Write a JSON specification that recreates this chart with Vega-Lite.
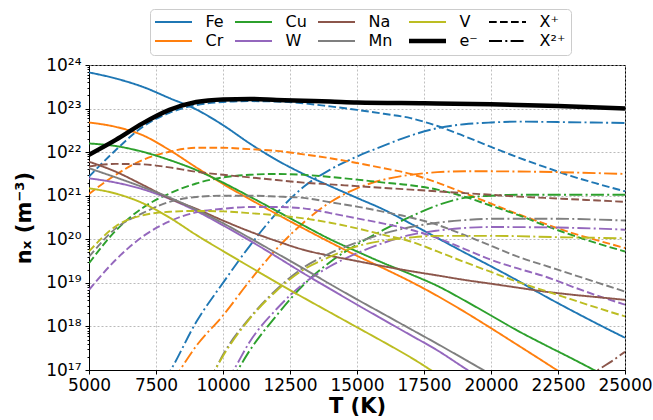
{
  "$schema": "https://vega.github.io/schema/vega-lite/v6.json",
  "width": 536,
  "height": 305,
  "autosize": "none",
  "padding": {"left": 89, "top": 65, "right": 28, "bottom": 50},
  "config": {
    "font": "DejaVu Sans",
    "view": {"stroke": "#000", "strokeWidth": 1},
    "axis": {
      "labelFont": "DejaVu Sans", "labelFontSize": 17, "labelColor": "#000",
      "tickColor": "#000", "domainColor": "#000", "titleFont": "DejaVu Sans", "titleColor": "#000",
      "gridColor": "#b0b0b0", "gridDash": [2, 2], "gridWidth": 0.8
    }
  },
  "data": {"values": [
    {"T": 5000, "n": 6.76e23, "s": "Fe", "q": "0"},
    {"T": 6000, "n": 4.90e23, "s": "Fe", "q": "0"},
    {"T": 7000, "n": 3.16e23, "s": "Fe", "q": "0"},
    {"T": 8000, "n": 1.74e23, "s": "Fe", "q": "0"},
    {"T": 9000, "n": 9.55e22, "s": "Fe", "q": "0"},
    {"T": 10000, "n": 4.17e22, "s": "Fe", "q": "0"},
    {"T": 11000, "n": 1.58e22, "s": "Fe", "q": "0"},
    {"T": 12000, "n": 6.61e21, "s": "Fe", "q": "0"},
    {"T": 13000, "n": 3.16e21, "s": "Fe", "q": "0"},
    {"T": 14000, "n": 1.66e21, "s": "Fe", "q": "0"},
    {"T": 15000, "n": 8.91e20, "s": "Fe", "q": "0"},
    {"T": 16000, "n": 4.79e20, "s": "Fe", "q": "0"},
    {"T": 17000, "n": 2.29e20, "s": "Fe", "q": "0"},
    {"T": 18000, "n": 1.07e20, "s": "Fe", "q": "0"},
    {"T": 19000, "n": 5.01e19, "s": "Fe", "q": "0"},
    {"T": 20000, "n": 2.40e19, "s": "Fe", "q": "0"},
    {"T": 21000, "n": 1.12e19, "s": "Fe", "q": "0"},
    {"T": 22000, "n": 5.01e18, "s": "Fe", "q": "0"},
    {"T": 23000, "n": 2.34e18, "s": "Fe", "q": "0"},
    {"T": 24000, "n": 1.12e18, "s": "Fe", "q": "0"},
    {"T": 25000, "n": 5.50e17, "s": "Fe", "q": "0"},

    {"T": 5000, "n": 2.75e21, "s": "Fe", "q": "+"},
    {"T": 6000, "n": 1.12e22, "s": "Fe", "q": "+"},
    {"T": 7000, "n": 3.80e22, "s": "Fe", "q": "+"},
    {"T": 8000, "n": 7.94e22, "s": "Fe", "q": "+"},
    {"T": 9000, "n": 1.20e23, "s": "Fe", "q": "+"},
    {"T": 10000, "n": 1.41e23, "s": "Fe", "q": "+"},
    {"T": 11000, "n": 1.48e23, "s": "Fe", "q": "+"},
    {"T": 12000, "n": 1.45e23, "s": "Fe", "q": "+"},
    {"T": 13000, "n": 1.32e23, "s": "Fe", "q": "+"},
    {"T": 14000, "n": 1.12e23, "s": "Fe", "q": "+"},
    {"T": 15000, "n": 9.33e22, "s": "Fe", "q": "+"},
    {"T": 16000, "n": 7.59e22, "s": "Fe", "q": "+"},
    {"T": 17000, "n": 6.03e22, "s": "Fe", "q": "+"},
    {"T": 18000, "n": 3.98e22, "s": "Fe", "q": "+"},
    {"T": 19000, "n": 2.34e22, "s": "Fe", "q": "+"},
    {"T": 20000, "n": 1.32e22, "s": "Fe", "q": "+"},
    {"T": 21000, "n": 7.59e21, "s": "Fe", "q": "+"},
    {"T": 22000, "n": 4.57e21, "s": "Fe", "q": "+"},
    {"T": 23000, "n": 2.82e21, "s": "Fe", "q": "+"},
    {"T": 24000, "n": 1.86e21, "s": "Fe", "q": "+"},
    {"T": 25000, "n": 1.26e21, "s": "Fe", "q": "+"},

    {"T": 7800, "n": 5.62e16, "s": "Fe", "q": "2+"},
    {"T": 8050, "n": 1.0e17, "s": "Fe", "q": "2+"},
    {"T": 9000, "n": 1.26e18, "s": "Fe", "q": "2+"},
    {"T": 10000, "n": 1.0e19, "s": "Fe", "q": "2+"},
    {"T": 11000, "n": 7.08e19, "s": "Fe", "q": "2+"},
    {"T": 12000, "n": 3.98e20, "s": "Fe", "q": "2+"},
    {"T": 13000, "n": 1.58e21, "s": "Fe", "q": "2+"},
    {"T": 14000, "n": 3.98e21, "s": "Fe", "q": "2+"},
    {"T": 15000, "n": 7.94e21, "s": "Fe", "q": "2+"},
    {"T": 16000, "n": 1.41e22, "s": "Fe", "q": "2+"},
    {"T": 17000, "n": 2.40e22, "s": "Fe", "q": "2+"},
    {"T": 18000, "n": 3.55e22, "s": "Fe", "q": "2+"},
    {"T": 19000, "n": 4.37e22, "s": "Fe", "q": "2+"},
    {"T": 20000, "n": 4.79e22, "s": "Fe", "q": "2+"},
    {"T": 21000, "n": 5.01e22, "s": "Fe", "q": "2+"},
    {"T": 22500, "n": 4.90e22, "s": "Fe", "q": "2+"},
    {"T": 25000, "n": 4.68e22, "s": "Fe", "q": "2+"},

    {"T": 5000, "n": 4.79e22, "s": "Cr", "q": "0"},
    {"T": 6000, "n": 3.80e22, "s": "Cr", "q": "0"},
    {"T": 7000, "n": 2.45e22, "s": "Cr", "q": "0"},
    {"T": 8000, "n": 1.12e22, "s": "Cr", "q": "0"},
    {"T": 9000, "n": 4.47e21, "s": "Cr", "q": "0"},
    {"T": 10000, "n": 1.86e21, "s": "Cr", "q": "0"},
    {"T": 11000, "n": 8.32e20, "s": "Cr", "q": "0"},
    {"T": 12000, "n": 3.80e20, "s": "Cr", "q": "0"},
    {"T": 13000, "n": 1.78e20, "s": "Cr", "q": "0"},
    {"T": 14000, "n": 8.51e19, "s": "Cr", "q": "0"},
    {"T": 15000, "n": 4.17e19, "s": "Cr", "q": "0"},
    {"T": 16000, "n": 2.14e19, "s": "Cr", "q": "0"},
    {"T": 17000, "n": 1.07e19, "s": "Cr", "q": "0"},
    {"T": 18000, "n": 5.01e18, "s": "Cr", "q": "0"},
    {"T": 19000, "n": 2.19e18, "s": "Cr", "q": "0"},
    {"T": 20000, "n": 9.12e17, "s": "Cr", "q": "0"},
    {"T": 21000, "n": 3.72e17, "s": "Cr", "q": "0"},
    {"T": 22000, "n": 1.51e17, "s": "Cr", "q": "0"},
    {"T": 23000, "n": 6.03e16, "s": "Cr", "q": "0"},

    {"T": 5000, "n": 1.10e21, "s": "Cr", "q": "+"},
    {"T": 6000, "n": 3.02e21, "s": "Cr", "q": "+"},
    {"T": 7000, "n": 6.61e21, "s": "Cr", "q": "+"},
    {"T": 8000, "n": 1.02e22, "s": "Cr", "q": "+"},
    {"T": 9000, "n": 1.26e22, "s": "Cr", "q": "+"},
    {"T": 10000, "n": 1.26e22, "s": "Cr", "q": "+"},
    {"T": 11000, "n": 1.17e22, "s": "Cr", "q": "+"},
    {"T": 12000, "n": 1.07e22, "s": "Cr", "q": "+"},
    {"T": 13000, "n": 8.91e21, "s": "Cr", "q": "+"},
    {"T": 14000, "n": 7.24e21, "s": "Cr", "q": "+"},
    {"T": 15000, "n": 5.62e21, "s": "Cr", "q": "+"},
    {"T": 16000, "n": 4.27e21, "s": "Cr", "q": "+"},
    {"T": 17000, "n": 3.16e21, "s": "Cr", "q": "+"},
    {"T": 18000, "n": 2.00e21, "s": "Cr", "q": "+"},
    {"T": 19000, "n": 1.15e21, "s": "Cr", "q": "+"},
    {"T": 20000, "n": 6.61e20, "s": "Cr", "q": "+"},
    {"T": 21000, "n": 3.80e20, "s": "Cr", "q": "+"},
    {"T": 22000, "n": 2.29e20, "s": "Cr", "q": "+"},
    {"T": 23000, "n": 1.41e20, "s": "Cr", "q": "+"},
    {"T": 24000, "n": 9.33e19, "s": "Cr", "q": "+"},
    {"T": 25000, "n": 6.31e19, "s": "Cr", "q": "+"},

    {"T": 8150, "n": 5.62e16, "s": "Cr", "q": "2+"},
    {"T": 8400, "n": 1.0e17, "s": "Cr", "q": "2+"},
    {"T": 9000, "n": 3.55e17, "s": "Cr", "q": "2+"},
    {"T": 10000, "n": 1.78e18, "s": "Cr", "q": "2+"},
    {"T": 11000, "n": 1.12e19, "s": "Cr", "q": "2+"},
    {"T": 12000, "n": 6.03e19, "s": "Cr", "q": "2+"},
    {"T": 13000, "n": 2.40e20, "s": "Cr", "q": "2+"},
    {"T": 14000, "n": 7.08e20, "s": "Cr", "q": "2+"},
    {"T": 15000, "n": 1.48e21, "s": "Cr", "q": "2+"},
    {"T": 16000, "n": 2.34e21, "s": "Cr", "q": "2+"},
    {"T": 17000, "n": 3.02e21, "s": "Cr", "q": "2+"},
    {"T": 18000, "n": 3.47e21, "s": "Cr", "q": "2+"},
    {"T": 19000, "n": 3.63e21, "s": "Cr", "q": "2+"},
    {"T": 20000, "n": 3.63e21, "s": "Cr", "q": "2+"},
    {"T": 22500, "n": 3.47e21, "s": "Cr", "q": "2+"},
    {"T": 25000, "n": 3.16e21, "s": "Cr", "q": "2+"},

    {"T": 5000, "n": 1.58e22, "s": "Cu", "q": "0"},
    {"T": 6000, "n": 1.38e22, "s": "Cu", "q": "0"},
    {"T": 7000, "n": 1.02e22, "s": "Cu", "q": "0"},
    {"T": 8000, "n": 6.61e21, "s": "Cu", "q": "0"},
    {"T": 9000, "n": 3.89e21, "s": "Cu", "q": "0"},
    {"T": 10000, "n": 2.00e21, "s": "Cu", "q": "0"},
    {"T": 11000, "n": 9.55e20, "s": "Cu", "q": "0"},
    {"T": 12000, "n": 4.47e20, "s": "Cu", "q": "0"},
    {"T": 13000, "n": 2.09e20, "s": "Cu", "q": "0"},
    {"T": 14000, "n": 1.0e20, "s": "Cu", "q": "0"},
    {"T": 15000, "n": 5.25e19, "s": "Cu", "q": "0"},
    {"T": 16000, "n": 2.82e19, "s": "Cu", "q": "0"},
    {"T": 17000, "n": 1.58e19, "s": "Cu", "q": "0"},
    {"T": 18000, "n": 8.51e18, "s": "Cu", "q": "0"},
    {"T": 19000, "n": 3.98e18, "s": "Cu", "q": "0"},
    {"T": 20000, "n": 1.78e18, "s": "Cu", "q": "0"},
    {"T": 21000, "n": 7.94e17, "s": "Cu", "q": "0"},
    {"T": 22000, "n": 3.80e17, "s": "Cu", "q": "0"},
    {"T": 23000, "n": 1.86e17, "s": "Cu", "q": "0"},
    {"T": 24000, "n": 8.91e16, "s": "Cu", "q": "0"},

    {"T": 5000, "n": 2.82e19, "s": "Cu", "q": "+"},
    {"T": 6000, "n": 1.58e20, "s": "Cu", "q": "+"},
    {"T": 7000, "n": 5.25e20, "s": "Cu", "q": "+"},
    {"T": 8000, "n": 1.12e21, "s": "Cu", "q": "+"},
    {"T": 9000, "n": 1.91e21, "s": "Cu", "q": "+"},
    {"T": 10000, "n": 2.63e21, "s": "Cu", "q": "+"},
    {"T": 11000, "n": 3.02e21, "s": "Cu", "q": "+"},
    {"T": 12000, "n": 3.16e21, "s": "Cu", "q": "+"},
    {"T": 13000, "n": 3.02e21, "s": "Cu", "q": "+"},
    {"T": 14000, "n": 2.69e21, "s": "Cu", "q": "+"},
    {"T": 15000, "n": 2.34e21, "s": "Cu", "q": "+"},
    {"T": 16000, "n": 2.00e21, "s": "Cu", "q": "+"},
    {"T": 17000, "n": 1.74e21, "s": "Cu", "q": "+"},
    {"T": 18000, "n": 1.38e21, "s": "Cu", "q": "+"},
    {"T": 19000, "n": 9.55e20, "s": "Cu", "q": "+"},
    {"T": 20000, "n": 5.89e20, "s": "Cu", "q": "+"},
    {"T": 21000, "n": 3.63e20, "s": "Cu", "q": "+"},
    {"T": 22000, "n": 2.09e20, "s": "Cu", "q": "+"},
    {"T": 23000, "n": 1.26e20, "s": "Cu", "q": "+"},
    {"T": 24000, "n": 7.94e19, "s": "Cu", "q": "+"},
    {"T": 25000, "n": 5.25e19, "s": "Cu", "q": "+"},

    {"T": 10300, "n": 5.62e16, "s": "Cu", "q": "2+"},
    {"T": 10550, "n": 1.0e17, "s": "Cu", "q": "2+"},
    {"T": 11000, "n": 2.82e17, "s": "Cu", "q": "2+"},
    {"T": 12000, "n": 1.78e18, "s": "Cu", "q": "2+"},
    {"T": 13000, "n": 8.91e18, "s": "Cu", "q": "2+"},
    {"T": 14000, "n": 3.02e19, "s": "Cu", "q": "2+"},
    {"T": 15000, "n": 7.59e19, "s": "Cu", "q": "2+"},
    {"T": 16000, "n": 1.66e20, "s": "Cu", "q": "2+"},
    {"T": 17000, "n": 3.31e20, "s": "Cu", "q": "2+"},
    {"T": 18000, "n": 6.03e20, "s": "Cu", "q": "2+"},
    {"T": 19000, "n": 8.91e20, "s": "Cu", "q": "2+"},
    {"T": 20000, "n": 1.0e21, "s": "Cu", "q": "2+"},
    {"T": 21000, "n": 1.05e21, "s": "Cu", "q": "2+"},
    {"T": 23000, "n": 1.05e21, "s": "Cu", "q": "2+"},
    {"T": 25000, "n": 1.05e21, "s": "Cu", "q": "2+"},

    {"T": 5000, "n": 2.51e21, "s": "W", "q": "0"},
    {"T": 6000, "n": 2.00e21, "s": "W", "q": "0"},
    {"T": 7000, "n": 1.41e21, "s": "W", "q": "0"},
    {"T": 8000, "n": 8.51e20, "s": "W", "q": "0"},
    {"T": 9000, "n": 4.47e20, "s": "W", "q": "0"},
    {"T": 10000, "n": 2.09e20, "s": "W", "q": "0"},
    {"T": 11000, "n": 9.33e19, "s": "W", "q": "0"},
    {"T": 12000, "n": 3.98e19, "s": "W", "q": "0"},
    {"T": 13000, "n": 1.66e19, "s": "W", "q": "0"},
    {"T": 14000, "n": 7.24e18, "s": "W", "q": "0"},
    {"T": 15000, "n": 3.16e18, "s": "W", "q": "0"},
    {"T": 16000, "n": 1.41e18, "s": "W", "q": "0"},
    {"T": 17000, "n": 6.31e17, "s": "W", "q": "0"},
    {"T": 18000, "n": 2.82e17, "s": "W", "q": "0"},
    {"T": 19000, "n": 1.12e17, "s": "W", "q": "0"},
    {"T": 19500, "n": 7.08e16, "s": "W", "q": "0"},

    {"T": 5000, "n": 6.92e18, "s": "W", "q": "+"},
    {"T": 6000, "n": 3.39e19, "s": "W", "q": "+"},
    {"T": 7000, "n": 1.15e20, "s": "W", "q": "+"},
    {"T": 8000, "n": 2.57e20, "s": "W", "q": "+"},
    {"T": 9000, "n": 4.17e20, "s": "W", "q": "+"},
    {"T": 10000, "n": 5.01e20, "s": "W", "q": "+"},
    {"T": 11000, "n": 5.50e20, "s": "W", "q": "+"},
    {"T": 12000, "n": 5.50e20, "s": "W", "q": "+"},
    {"T": 13000, "n": 5.13e20, "s": "W", "q": "+"},
    {"T": 14000, "n": 3.98e20, "s": "W", "q": "+"},
    {"T": 15000, "n": 3.02e20, "s": "W", "q": "+"},
    {"T": 16000, "n": 2.29e20, "s": "W", "q": "+"},
    {"T": 17000, "n": 1.66e20, "s": "W", "q": "+"},
    {"T": 18000, "n": 1.07e20, "s": "W", "q": "+"},
    {"T": 19000, "n": 6.03e19, "s": "W", "q": "+"},
    {"T": 20000, "n": 3.39e19, "s": "W", "q": "+"},
    {"T": 21000, "n": 2.14e19, "s": "W", "q": "+"},
    {"T": 22000, "n": 1.41e19, "s": "W", "q": "+"},
    {"T": 23000, "n": 8.32e18, "s": "W", "q": "+"},
    {"T": 24000, "n": 5.01e18, "s": "W", "q": "+"},
    {"T": 25000, "n": 3.16e18, "s": "W", "q": "+"},

    {"T": 10150, "n": 5.62e16, "s": "W", "q": "2+"},
    {"T": 10400, "n": 1.0e17, "s": "W", "q": "2+"},
    {"T": 11000, "n": 4.47e17, "s": "W", "q": "2+"},
    {"T": 12000, "n": 2.51e18, "s": "W", "q": "2+"},
    {"T": 13000, "n": 9.55e18, "s": "W", "q": "2+"},
    {"T": 14000, "n": 2.40e19, "s": "W", "q": "2+"},
    {"T": 15000, "n": 4.79e19, "s": "W", "q": "2+"},
    {"T": 16000, "n": 8.32e19, "s": "W", "q": "2+"},
    {"T": 17000, "n": 1.26e20, "s": "W", "q": "2+"},
    {"T": 18000, "n": 1.58e20, "s": "W", "q": "2+"},
    {"T": 19000, "n": 1.82e20, "s": "W", "q": "2+"},
    {"T": 20000, "n": 1.91e20, "s": "W", "q": "2+"},
    {"T": 22500, "n": 1.86e20, "s": "W", "q": "2+"},
    {"T": 25000, "n": 1.66e20, "s": "W", "q": "2+"},

    {"T": 5000, "n": 6.03e21, "s": "Na", "q": "0"},
    {"T": 6000, "n": 3.55e21, "s": "Na", "q": "0"},
    {"T": 7000, "n": 1.78e21, "s": "Na", "q": "0"},
    {"T": 8000, "n": 8.71e20, "s": "Na", "q": "0"},
    {"T": 9000, "n": 5.01e20, "s": "Na", "q": "0"},
    {"T": 10000, "n": 2.69e20, "s": "Na", "q": "0"},
    {"T": 11000, "n": 1.51e20, "s": "Na", "q": "0"},
    {"T": 12000, "n": 9.12e19, "s": "Na", "q": "0"},
    {"T": 13000, "n": 5.75e19, "s": "Na", "q": "0"},
    {"T": 14000, "n": 4.17e19, "s": "Na", "q": "0"},
    {"T": 15000, "n": 3.16e19, "s": "Na", "q": "0"},
    {"T": 16000, "n": 2.40e19, "s": "Na", "q": "0"},
    {"T": 17000, "n": 1.86e19, "s": "Na", "q": "0"},
    {"T": 18000, "n": 1.48e19, "s": "Na", "q": "0"},
    {"T": 19000, "n": 1.17e19, "s": "Na", "q": "0"},
    {"T": 20000, "n": 9.55e18, "s": "Na", "q": "0"},
    {"T": 21000, "n": 7.76e18, "s": "Na", "q": "0"},
    {"T": 22000, "n": 6.31e18, "s": "Na", "q": "0"},
    {"T": 23000, "n": 5.37e18, "s": "Na", "q": "0"},
    {"T": 24000, "n": 4.68e18, "s": "Na", "q": "0"},
    {"T": 25000, "n": 4.07e18, "s": "Na", "q": "0"},

    {"T": 5000, "n": 4.68e21, "s": "Na", "q": "+"},
    {"T": 6000, "n": 5.37e21, "s": "Na", "q": "+"},
    {"T": 7000, "n": 5.25e21, "s": "Na", "q": "+"},
    {"T": 8000, "n": 4.47e21, "s": "Na", "q": "+"},
    {"T": 9000, "n": 3.55e21, "s": "Na", "q": "+"},
    {"T": 10000, "n": 3.02e21, "s": "Na", "q": "+"},
    {"T": 11000, "n": 2.63e21, "s": "Na", "q": "+"},
    {"T": 12000, "n": 2.29e21, "s": "Na", "q": "+"},
    {"T": 13000, "n": 2.00e21, "s": "Na", "q": "+"},
    {"T": 14000, "n": 1.82e21, "s": "Na", "q": "+"},
    {"T": 15000, "n": 1.66e21, "s": "Na", "q": "+"},
    {"T": 16000, "n": 1.51e21, "s": "Na", "q": "+"},
    {"T": 17000, "n": 1.38e21, "s": "Na", "q": "+"},
    {"T": 18000, "n": 1.26e21, "s": "Na", "q": "+"},
    {"T": 19000, "n": 1.15e21, "s": "Na", "q": "+"},
    {"T": 20000, "n": 1.05e21, "s": "Na", "q": "+"},
    {"T": 21000, "n": 9.55e20, "s": "Na", "q": "+"},
    {"T": 22000, "n": 8.91e20, "s": "Na", "q": "+"},
    {"T": 23000, "n": 8.32e20, "s": "Na", "q": "+"},
    {"T": 24000, "n": 7.76e20, "s": "Na", "q": "+"},
    {"T": 25000, "n": 7.24e20, "s": "Na", "q": "+"},

    {"T": 23500, "n": 5.62e16, "s": "Na", "q": "2+"},
    {"T": 24000, "n": 1.0e17, "s": "Na", "q": "2+"},
    {"T": 24500, "n": 1.58e17, "s": "Na", "q": "2+"},
    {"T": 25000, "n": 2.63e17, "s": "Na", "q": "2+"},

    {"T": 5000, "n": 4.27e21, "s": "Mn", "q": "0"},
    {"T": 6000, "n": 2.63e21, "s": "Mn", "q": "0"},
    {"T": 7000, "n": 1.58e21, "s": "Mn", "q": "0"},
    {"T": 8000, "n": 9.12e20, "s": "Mn", "q": "0"},
    {"T": 9000, "n": 4.79e20, "s": "Mn", "q": "0"},
    {"T": 10000, "n": 2.34e20, "s": "Mn", "q": "0"},
    {"T": 11000, "n": 1.07e20, "s": "Mn", "q": "0"},
    {"T": 12000, "n": 4.79e19, "s": "Mn", "q": "0"},
    {"T": 13000, "n": 2.14e19, "s": "Mn", "q": "0"},
    {"T": 14000, "n": 9.33e18, "s": "Mn", "q": "0"},
    {"T": 15000, "n": 4.17e18, "s": "Mn", "q": "0"},
    {"T": 16000, "n": 1.91e18, "s": "Mn", "q": "0"},
    {"T": 17000, "n": 8.71e17, "s": "Mn", "q": "0"},
    {"T": 18000, "n": 3.98e17, "s": "Mn", "q": "0"},
    {"T": 19000, "n": 1.78e17, "s": "Mn", "q": "0"},
    {"T": 20000, "n": 7.94e16, "s": "Mn", "q": "0"},

    {"T": 5000, "n": 3.98e19, "s": "Mn", "q": "+"},
    {"T": 6000, "n": 1.78e20, "s": "Mn", "q": "+"},
    {"T": 7000, "n": 3.98e20, "s": "Mn", "q": "+"},
    {"T": 8000, "n": 7.24e20, "s": "Mn", "q": "+"},
    {"T": 9000, "n": 9.33e20, "s": "Mn", "q": "+"},
    {"T": 10000, "n": 1.0e21, "s": "Mn", "q": "+"},
    {"T": 11000, "n": 1.0e21, "s": "Mn", "q": "+"},
    {"T": 12000, "n": 9.55e20, "s": "Mn", "q": "+"},
    {"T": 13000, "n": 8.91e20, "s": "Mn", "q": "+"},
    {"T": 14000, "n": 7.08e20, "s": "Mn", "q": "+"},
    {"T": 15000, "n": 5.62e20, "s": "Mn", "q": "+"},
    {"T": 16000, "n": 4.27e20, "s": "Mn", "q": "+"},
    {"T": 17000, "n": 3.16e20, "s": "Mn", "q": "+"},
    {"T": 18000, "n": 2.14e20, "s": "Mn", "q": "+"},
    {"T": 19000, "n": 1.26e20, "s": "Mn", "q": "+"},
    {"T": 20000, "n": 7.08e19, "s": "Mn", "q": "+"},
    {"T": 21000, "n": 3.98e19, "s": "Mn", "q": "+"},
    {"T": 22000, "n": 2.51e19, "s": "Mn", "q": "+"},
    {"T": 23000, "n": 1.58e19, "s": "Mn", "q": "+"},
    {"T": 24000, "n": 1.0e19, "s": "Mn", "q": "+"},
    {"T": 25000, "n": 6.31e18, "s": "Mn", "q": "+"},

    {"T": 9450, "n": 5.62e16, "s": "Mn", "q": "2+"},
    {"T": 9700, "n": 1.0e17, "s": "Mn", "q": "2+"},
    {"T": 10000, "n": 2.24e17, "s": "Mn", "q": "2+"},
    {"T": 11000, "n": 1.58e18, "s": "Mn", "q": "2+"},
    {"T": 12000, "n": 7.08e18, "s": "Mn", "q": "2+"},
    {"T": 13000, "n": 2.24e19, "s": "Mn", "q": "2+"},
    {"T": 14000, "n": 4.79e19, "s": "Mn", "q": "2+"},
    {"T": 15000, "n": 8.51e19, "s": "Mn", "q": "2+"},
    {"T": 16000, "n": 1.35e20, "s": "Mn", "q": "2+"},
    {"T": 17000, "n": 1.91e20, "s": "Mn", "q": "2+"},
    {"T": 18000, "n": 2.40e20, "s": "Mn", "q": "2+"},
    {"T": 19000, "n": 2.75e20, "s": "Mn", "q": "2+"},
    {"T": 20000, "n": 2.95e20, "s": "Mn", "q": "2+"},
    {"T": 22500, "n": 2.95e20, "s": "Mn", "q": "2+"},
    {"T": 25000, "n": 2.69e20, "s": "Mn", "q": "2+"},

    {"T": 5000, "n": 1.48e21, "s": "V", "q": "0"},
    {"T": 6000, "n": 1.12e21, "s": "V", "q": "0"},
    {"T": 7000, "n": 6.76e20, "s": "V", "q": "0"},
    {"T": 8000, "n": 3.16e20, "s": "V", "q": "0"},
    {"T": 9000, "n": 1.26e20, "s": "V", "q": "0"},
    {"T": 10000, "n": 5.37e19, "s": "V", "q": "0"},
    {"T": 11000, "n": 2.34e19, "s": "V", "q": "0"},
    {"T": 12000, "n": 1.02e19, "s": "V", "q": "0"},
    {"T": 13000, "n": 4.57e18, "s": "V", "q": "0"},
    {"T": 14000, "n": 2.09e18, "s": "V", "q": "0"},
    {"T": 15000, "n": 9.55e17, "s": "V", "q": "0"},
    {"T": 16000, "n": 4.37e17, "s": "V", "q": "0"},
    {"T": 17000, "n": 1.95e17, "s": "V", "q": "0"},
    {"T": 18000, "n": 7.94e16, "s": "V", "q": "0"},

    {"T": 5000, "n": 5.25e19, "s": "V", "q": "+"},
    {"T": 6000, "n": 2.00e20, "s": "V", "q": "+"},
    {"T": 7000, "n": 3.55e20, "s": "V", "q": "+"},
    {"T": 8000, "n": 4.27e20, "s": "V", "q": "+"},
    {"T": 9000, "n": 4.47e20, "s": "V", "q": "+"},
    {"T": 10000, "n": 4.37e20, "s": "V", "q": "+"},
    {"T": 11000, "n": 3.98e20, "s": "V", "q": "+"},
    {"T": 12000, "n": 3.55e20, "s": "V", "q": "+"},
    {"T": 13000, "n": 3.02e20, "s": "V", "q": "+"},
    {"T": 14000, "n": 2.40e20, "s": "V", "q": "+"},
    {"T": 15000, "n": 1.78e20, "s": "V", "q": "+"},
    {"T": 16000, "n": 1.26e20, "s": "V", "q": "+"},
    {"T": 17000, "n": 8.91e19, "s": "V", "q": "+"},
    {"T": 18000, "n": 5.25e19, "s": "V", "q": "+"},
    {"T": 19000, "n": 3.02e19, "s": "V", "q": "+"},
    {"T": 20000, "n": 1.78e19, "s": "V", "q": "+"},
    {"T": 21000, "n": 1.05e19, "s": "V", "q": "+"},
    {"T": 22000, "n": 6.61e18, "s": "V", "q": "+"},
    {"T": 23000, "n": 4.17e18, "s": "V", "q": "+"},
    {"T": 24000, "n": 2.63e18, "s": "V", "q": "+"},
    {"T": 25000, "n": 1.70e18, "s": "V", "q": "+"},

    {"T": 9450, "n": 5.62e16, "s": "V", "q": "2+"},
    {"T": 9700, "n": 1.0e17, "s": "V", "q": "2+"},
    {"T": 10000, "n": 2.09e17, "s": "V", "q": "2+"},
    {"T": 11000, "n": 1.51e18, "s": "V", "q": "2+"},
    {"T": 12000, "n": 6.61e18, "s": "V", "q": "2+"},
    {"T": 13000, "n": 2.00e19, "s": "V", "q": "2+"},
    {"T": 14000, "n": 3.98e19, "s": "V", "q": "2+"},
    {"T": 15000, "n": 6.92e19, "s": "V", "q": "2+"},
    {"T": 16000, "n": 9.33e19, "s": "V", "q": "2+"},
    {"T": 17000, "n": 1.10e20, "s": "V", "q": "2+"},
    {"T": 18000, "n": 1.20e20, "s": "V", "q": "2+"},
    {"T": 20000, "n": 1.20e20, "s": "V", "q": "2+"},
    {"T": 22500, "n": 1.12e20, "s": "V", "q": "2+"},
    {"T": 25000, "n": 1.05e20, "s": "V", "q": "2+"},

    {"T": 5000, "n": 8.71e21, "s": "e⁻", "q": "e"},
    {"T": 6000, "n": 1.91e22, "s": "e⁻", "q": "e"},
    {"T": 7000, "n": 4.57e22, "s": "e⁻", "q": "e"},
    {"T": 8000, "n": 9.33e22, "s": "e⁻", "q": "e"},
    {"T": 9000, "n": 1.41e23, "s": "e⁻", "q": "e"},
    {"T": 10000, "n": 1.62e23, "s": "e⁻", "q": "e"},
    {"T": 11000, "n": 1.66e23, "s": "e⁻", "q": "e"},
    {"T": 12000, "n": 1.58e23, "s": "e⁻", "q": "e"},
    {"T": 13000, "n": 1.51e23, "s": "e⁻", "q": "e"},
    {"T": 14000, "n": 1.45e23, "s": "e⁻", "q": "e"},
    {"T": 15000, "n": 1.38e23, "s": "e⁻", "q": "e"},
    {"T": 17500, "n": 1.32e23, "s": "e⁻", "q": "e"},
    {"T": 20000, "n": 1.26e23, "s": "e⁻", "q": "e"},
    {"T": 22500, "n": 1.15e23, "s": "e⁻", "q": "e"},
    {"T": 25000, "n": 1.0e23, "s": "e⁻", "q": "e"}
  ]},
  "encoding": {
    "x": {
      "field": "T", "type": "quantitative",
      "scale": {"domain": [5000, 25000], "nice": false, "zero": false},
      "axis": {
        "values": [5000, 7500, 10000, 12500, 15000, 17500, 20000, 22500, 25000],
        "format": "d", "tickSize": 4, "labelPadding": 3, "labelFlush": false,
        "title": "T (K)", "titleFontSize": 21, "titleFontWeight": "bold", "titlePadding": 2
      }
    }
  },
  "layer": [
    {
      "transform": [{"filter": "datum.q !== 'e'"}],
      "mark": {"type": "line", "clip": true, "interpolate": "monotone", "strokeWidth": 1.9},
      "encoding": {
        "y": {
          "field": "n", "type": "quantitative",
          "scale": {"type": "log", "domain": [1e17, 1e24], "nice": false},
          "axis": {
            "values": [1e17, 1e18, 1e19, 1e20, 1e21, 1e22, 1e23, 1e24],
            "labelExpr": "'10' + ['¹⁷','¹⁸','¹⁹','²⁰','²¹','²²','²³','²⁴'][round(log(datum.value) / LN10) - 17]",
            "tickSize": 4, "labelPadding": 4, "orient": "left",
            "title": "nₓ (m⁻³)", "titleFontSize": 21, "titleFontWeight": "bold", "titlePadding": 11,
            "gridColor": "#a8a8a8"
          }
        },
        "color": {
          "field": "s", "type": "nominal",
          "scale": {
            "domain": ["Fe", "Cu", "Na", "V", "X⁺", "Cr", "W", "Mn", "e⁻", "X²⁺"],
            "range": ["#1f77b4", "#2ca02c", "#8c564b", "#bcbd22", "#000000", "#ff7f0e", "#9467bd", "#7f7f7f", "#000000", "#000000"]
          },
          "legend": {
            "orient": "none", "legendX": 61, "legendY": -56,
            "direction": "horizontal", "columns": 5, "title": null,
            "symbolType": "stroke", "symbolSize": 1369, "symbolStrokeWidth": 2, "symbolOffset": 10.5,
            "labelFont": "DejaVu Sans", "labelFontSize": 16, "labelColor": "#000", "labelOffset": 24,
            "rowPadding": 2, "columnPadding": 7, "gridAlign": "each",
            "padding": 5, "strokeColor": "#cccccc", "cornerRadius": 4, "fillColor": "#ffffff",
            "encode": {
              "symbols": {
                "update": {
                  "strokeDash": {"signal": "datum.value === 'X⁺' ? [7.7, 3.3] : datum.value === 'X²⁺' ? [13, 3.3, 2, 3.3] : [1, 0]"},
                  "strokeWidth": {"signal": "datum.value === 'e⁻' ? 4.5 : 2"}
                }
              }
            }
          }
        },
        "strokeDash": {
          "field": "q", "type": "nominal",
          "scale": {"domain": ["0", "+", "2+"], "range": [[1, 0], [7.7, 3.3], [13, 3.3, 2, 3.3]]},
          "legend": null
        }
      }
    },
    {
      "transform": [{"filter": "datum.q === 'e'"}],
      "mark": {"type": "line", "clip": true, "interpolate": "monotone", "strokeWidth": 4.5},
      "encoding": {
        "y": {
          "field": "n", "type": "quantitative",
          "scale": {"type": "log", "domain": [1e17, 1e24], "nice": false},
          "axis": {
            "orient": "left", "labels": false, "domain": false, "title": null,
            "tickSize": 2, "gridColor": "#c4c4c4", "gridDash": [1.5, 1.5], "gridWidth": 0.6,
            "values": [2e17, 3e17, 4e17, 5e17, 6e17, 7e17, 8e17, 9e17,
                       2e18, 3e18, 4e18, 5e18, 6e18, 7e18, 8e18, 9e18,
                       2e19, 3e19, 4e19, 5e19, 6e19, 7e19, 8e19, 9e19,
                       2e20, 3e20, 4e20, 5e20, 6e20, 7e20, 8e20, 9e20,
                       2e21, 3e21, 4e21, 5e21, 6e21, 7e21, 8e21, 9e21,
                       2e22, 3e22, 4e22, 5e22, 6e22, 7e22, 8e22, 9e22,
                       2e23, 3e23, 4e23, 5e23, 6e23, 7e23, 8e23, 9e23]
          }
        },
        "color": {
          "field": "s", "type": "nominal",
          "scale": {
            "domain": ["Fe", "Cu", "Na", "V", "X⁺", "Cr", "W", "Mn", "e⁻", "X²⁺"],
            "range": ["#1f77b4", "#2ca02c", "#8c564b", "#bcbd22", "#000000", "#ff7f0e", "#9467bd", "#7f7f7f", "#000000", "#000000"]
          }
        }
      }
    }
  ],
  "resolve": {"axis": {"y": "independent"}}
}
